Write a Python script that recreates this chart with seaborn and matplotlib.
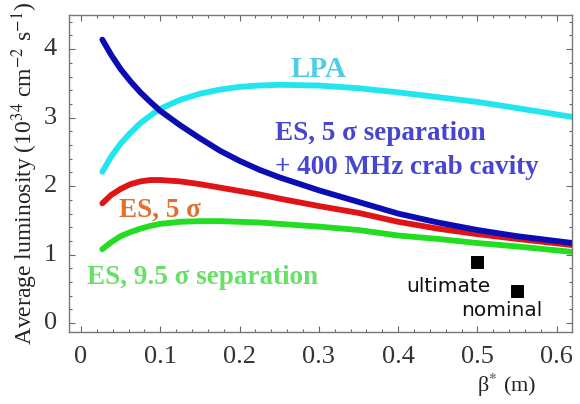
import pandas as pd
import matplotlib
matplotlib.use('Agg')
import matplotlib.pyplot as plt
import seaborn as sns
from matplotlib.ticker import MultipleLocator

# values
beta = [0.027, 0.038, 0.05, 0.0625, 0.075, 0.0875, 0.1, 0.125, 0.15, 0.175, 0.2, 0.225,
        0.25, 0.3, 0.35, 0.4, 0.45, 0.5, 0.55, 0.62]
lum_lpa = [2.21, 2.43, 2.62, 2.78, 2.92, 3.03, 3.13, 3.26, 3.35, 3.41, 3.45, 3.47,
           3.48, 3.47, 3.43, 3.37, 3.30, 3.23, 3.14, 3.01]
lum_es5_crab = [4.14, 3.92, 3.71, 3.53, 3.37, 3.23, 3.10, 2.89, 2.70, 2.52, 2.37, 2.24,
                2.13, 1.94, 1.77, 1.60, 1.47, 1.36, 1.27, 1.17]
lum_es5 = [1.75, 1.87, 1.96, 2.03, 2.07, 2.09, 2.09, 2.07, 2.03, 1.98, 1.93, 1.88,
           1.82, 1.71, 1.61, 1.48, 1.38, 1.30, 1.23, 1.14]
lum_es95 = [1.08, 1.18, 1.27, 1.33, 1.38, 1.42, 1.45, 1.48, 1.49, 1.49, 1.48, 1.47,
            1.45, 1.41, 1.36, 1.28, 1.23, 1.17, 1.12, 1.04]

point_names = ['ultimate', 'nominal']
point_beta = [0.5, 0.55]
point_lum = [0.9, 0.47]

sns.set_style('ticks')
plt.rcParams['font.family'] = ['Liberation Serif', 'DejaVu Serif']
plt.rcParams['mathtext.fontset'] = 'stix'

fig = plt.figure(figsize=(5.8, 4.04), dpi=100)
ax = fig.add_axes([0.119, 0.178, 0.867, 0.785])

curves = [
    (lum_lpa, '#22e6ee'),
    (lum_es5, '#e01414'),
    (lum_es95, '#22dd22'),
    (lum_es5_crab, '#0c0cb4'),
]
for values, color in curves:
    df = pd.DataFrame({'beta': beta, 'lum': values})
    sns.lineplot(data=df, x='beta', y='lum', ax=ax, color=color, lw=4.2,
                 sort=False, solid_capstyle='round', solid_joinstyle='round')

pts = pd.DataFrame({'beta': point_beta, 'lum': point_lum, 'name': point_names})
sns.scatterplot(data=pts, x='beta', y='lum', ax=ax, marker='s', s=75,
                color='black', edgecolor='black')

ax.set_xlim(-0.015, 0.619)
ax.set_ylim(-0.13, 4.5)
ax.xaxis.set_major_locator(MultipleLocator(0.1))
ax.xaxis.set_minor_locator(MultipleLocator(0.02))
ax.yaxis.set_major_locator(MultipleLocator(1))
ax.yaxis.set_minor_locator(MultipleLocator(0.2))
ax.set_xticklabels([])
ax.set_yticklabels([])
ax.tick_params(which='both', direction='in', top=True, right=True, color='#666666', width=0.8)
ax.tick_params(which='major', length=4)
ax.tick_params(which='minor', length=2.5)
for s in ax.spines.values():
    s.set_color('#777777')
    s.set_linewidth(1.0)
ax.set_xlabel('')
ax.set_ylabel('')

# tick labels as plain text, Times-like
for v in [0, 0.1, 0.2, 0.3, 0.4, 0.5, 0.6]:
    ax.text(v, -0.33, '0' if v == 0 else f'{v:.1f}', ha='center', va='top',
            fontsize=19, color='#333333', clip_on=False)
for v in range(5):
    ax.text(-0.03, v, str(v), ha='right', va='center', fontsize=19, color='#333333', clip_on=False)

fig.text(0.043, 0.57, 'Average luminosity (10$^{34}$ cm$^{-2}$ s$^{-1}$)', rotation=90,
         ha='center', va='center', fontsize=17, color='#222222')
fig.text(0.874, 0.045, 'β$^{*}$ (m)', ha='center', va='center', fontsize=16, color='#222222')

bold = dict(fontweight='bold', fontsize=19.5)
ax.text(0.299, 3.70, 'LPA', color='#4fcde6', ha='center', va='center', fontweight='bold', fontsize=21)
ax.text(0.245, 2.77, 'ES, 5 σ separation', color='#4646d2', ha='left', va='center', **bold)
ax.text(0.245, 2.27, '+ 400 MHz crab cavity', color='#4646d2', ha='left', va='center', **bold)
ax.text(0.048, 1.65, 'ES, 5 σ', color='#e0702c', ha='left', va='center', **bold)
ax.text(0.008, 0.66, 'ES, 9.5 σ separation', color='#66e066', ha='left', va='center', **bold)

ax.text(0.41, 0.53, 'ultimate', family='DejaVu Sans', fontsize=14.5, color='#111111', ha='left', va='center')
ax.text(0.479, 0.19, 'nominal', family='DejaVu Sans', fontsize=14.5, color='#111111', ha='left', va='center')

fig.savefig('out.png', dpi=100)
